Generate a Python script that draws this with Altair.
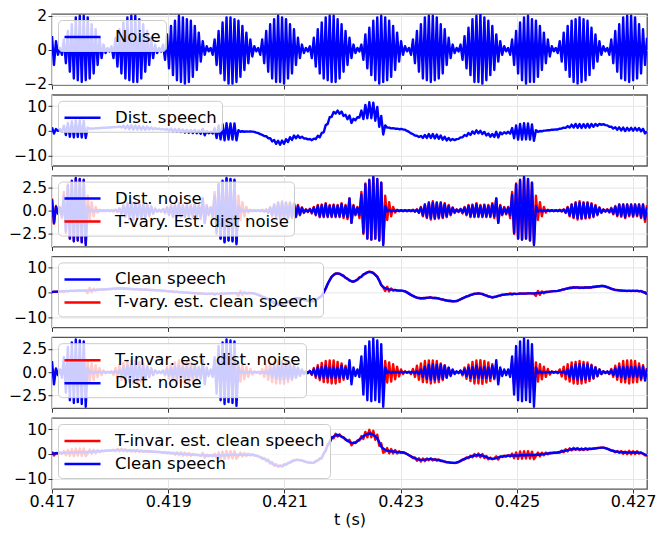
import altair as alt
import numpy as np
import pandas as pd

# ---------------- data ----------------
T_START, T_END = 0.417, 0.42724
X_TICKS = [0.417, 0.419, 0.421, 0.423, 0.425, 0.427]

NOISE = [
 0.8,-0.9,0.5,-0.3,
 0.1,-0.3,0.6,-0.8,1.1,-1.3,1.5,-1.7,1.9,-1.8,2.0,-1.9,2.0,-1.8,1.9,-1.7,1.5,-1.4,1.2,-0.9,0.7,-0.5,0.3,-0.2,0.1,
 -0.1,0.2,-0.5,0.7,-1.0,1.2,-1.4,1.6,-1.7,1.9,-1.8,2.0,-1.9,2.0,-1.9,1.8,-1.7,1.5,-1.3,1.1,-0.9,0.7,-0.5,0.3,-0.2,0.1,
 -0.1,0.3,-0.6,0.9,-1.1,1.4,-1.5,1.7,-1.8,2.0,-1.9,1.9,-2.0,1.8,-1.9,1.7,-1.6,1.4,-1.2,1.0,-0.7,0.5,-0.3,0.2,-0.1,
 0.1,-0.3,0.6,-0.9,1.1,-1.4,1.6,-1.8,1.9,-2.0,1.9,-2.0,1.8,-1.9,1.7,-1.6,1.4,-1.2,1.0,-0.8,0.6,-0.4,0.2,-0.1,
 0.1,-0.3,0.6,-0.8,1.1,-1.3,1.5,-1.7,1.8,-1.9,2.0,-1.9,1.9,-2.0,1.8,-1.7,1.5,-1.4,1.2,-0.9,0.7,-0.5,0.3,-0.2,0.1,
 -0.1,0.2,-0.5,0.7,-1.0,1.2,-1.4,1.6,-1.7,1.9,-1.8,2.0,-1.9,2.0,-1.9,1.8,-1.7,1.5,-1.3,1.1,-0.9,0.7,-0.5,0.3,-0.2,0.1,
 -0.1,0.3,-0.6,0.9,-1.1,1.3,-1.5,1.7,-1.8,1.9,-2.0,2.0,-1.9,1.9,-1.8,1.7,-1.6,1.4,-1.2,1.0,-0.7,0.5,-0.3,0.2,-0.1,
 0.1,-0.3,0.6,-0.8,1.1,-1.3,1.5,-1.7,1.9,-1.8,2.0,-1.9,2.0,-1.8,1.9,-1.7,1.5,-1.4,1.2,-0.9,0.7,-0.5,0.3,-0.2,0.1,
 -0.1,0.3,-0.6,0.8,-1.1,1.3,-1.5,1.8,-1.9,2.0,-1.9,2.1,-2.0,1.9,-1.8,1.7,-1.5,1.4,-1.2,0.9,-0.7,0.5,-0.3,0.2,-0.1,
 0.1,-0.3,0.6,-0.9,1.1,-1.4,1.6,-1.8,1.9,-2.0,2.0,-1.9,1.8,-1.9,1.7,-1.6,1.4,-1.2,1.0,-0.8,0.6,-0.4,0.2,-0.1,
 0.1,-0.2,0.5,-0.7,1.0,-1.2,1.4,-1.6,1.7,-1.9,1.8,-2.0,1.9,-1.9,1.8,-1.8,1.7,-1.5,1.3,-1.1,0.9,-0.7,0.5,-0.3,0.2,-0.1,
 0.1,-0.3,0.6,-0.8,1.1,-1.3,1.5,-1.7,1.9,-1.8,2.0,-1.9,2.0,-1.8,1.9,-1.7,1.5,-1.4,1.2,-0.9,0.7,
]

DIST_NOISE = [
 1.2,-1.3,0.4,-0.3,
 0.3,-0.6,1.6,-2.2,2.7,-3.0,3.2,-3.3,3.5,-3.2,3.4,-3.4,3.3,-3.7,0.5,-0.1,0.1,-0.1,0.05,-0.05,0.05,-0.05,0.05,-0.05,0.05,
 -0.05,0.05,-0.05,0.1,-0.1,0.2,-0.3,0.5,-0.6,0.7,-0.8,0.8,-0.85,0.8,-0.8,0.75,-0.8,0.7,-0.7,0.6,-0.5,0.4,-0.3,0.2,-0.1,0.1,
 -0.1,0.15,-0.2,0.3,-0.4,0.5,-0.6,0.55,-0.6,0.7,-0.6,0.5,-0.6,0.55,-0.6,0.5,-0.6,0.7,-0.6,0.5,-0.7,1.3,-1.3,0.5,-0.4,
 0.3,-0.5,1.6,-2.3,2.8,-3.0,3.2,-3.4,3.5,-3.2,3.4,-3.3,3.3,-3.6,0.5,-0.1,0.1,-0.1,0.05,-0.05,0.05,-0.05,0.05,-0.05,
 0.05,-0.05,0.05,-0.1,0.1,-0.2,0.3,-0.5,0.6,-0.7,0.8,-0.8,0.85,-0.8,0.8,-0.75,0.8,-0.7,0.7,-0.6,0.5,-0.4,0.3,-0.2,0.1,
 -0.1,0.15,-0.2,0.3,-0.4,0.5,-0.6,0.55,-0.6,0.7,-0.6,0.5,-0.6,0.55,-0.6,0.5,-0.6,0.7,-0.6,0.5,-0.7,1.3,-1.3,0.5,-0.4,0.3,
 -0.5,1.7,-2.4,2.8,-3.0,3.3,-3.1,3.6,-3.0,3.4,-3.2,3.0,-3.7,0.5,-0.1,0.1,-0.1,0.05,-0.05,0.05,-0.05,0.05,-0.05,0.05,-0.05,
 0.05,-0.05,0.05,-0.1,0.1,-0.2,0.3,-0.5,0.6,-0.7,0.8,-0.8,0.85,-0.8,0.8,-0.75,0.8,-0.7,0.7,-0.6,0.5,-0.4,0.3,-0.2,0.1,
 -0.1,0.15,-0.2,0.3,-0.4,0.5,-0.6,0.55,-0.6,0.7,-0.6,0.5,-0.6,0.55,-0.6,0.5,-0.6,0.7,-0.6,1.3,-1.3,0.5,-0.4,0.3,-0.3,
 0.3,-0.5,1.7,-2.4,2.8,-3.0,3.3,-3.1,3.6,-3.0,3.4,-3.2,3.0,-3.7,0.5,-0.1,0.1,-0.1,0.05,-0.05,0.05,-0.05,0.05,-0.05,
 0.05,-0.05,0.05,-0.05,0.1,-0.2,0.3,-0.5,0.6,-0.7,0.8,-0.8,0.85,-0.8,0.8,-0.75,0.8,-0.7,0.7,-0.6,0.5,-0.4,0.3,-0.2,0.1,-0.1,
 0.1,-0.15,0.2,-0.3,0.4,-0.5,0.6,-0.55,0.6,-0.7,0.6,-0.5,0.6,-0.55,0.6,-0.5,0.6,-0.7,0.6,-0.9,0.4,
]

TVARY_EST_NOISE = [
 1.3,-1.4,0.5,-0.3,
 0.4,-0.8,2.0,-2.4,2.8,-3.0,3.1,-3.2,3.4,-3.2,3.3,-3.3,3.2,-3.5,1.6,-1.0,0.9,-0.6,0.4,-0.2,0.1,-0.05,0.05,-0.05,0.05,
 -0.05,0.05,-0.1,0.1,-0.15,0.25,-0.4,0.6,-0.7,0.8,-0.9,0.95,-1.0,0.9,-0.9,0.85,-0.9,0.8,-0.8,0.7,-0.6,0.5,-0.35,0.25,-0.15,0.1,
 -0.15,0.2,-0.3,0.4,-0.5,0.6,-0.7,0.65,-0.7,0.8,-0.7,0.6,-0.7,0.65,-0.7,0.6,-0.7,0.8,-0.8,0.6,-0.9,1.3,-1.3,0.6,-0.5,
 0.4,-0.8,2.0,-2.5,2.9,-3.0,3.1,-3.3,3.4,-3.2,3.3,-3.2,3.2,-3.4,1.6,-1.0,0.9,-0.6,0.4,-0.2,0.1,-0.05,0.05,-0.05,
 0.05,-0.05,0.1,-0.1,0.15,-0.25,0.4,-0.6,0.7,-0.8,0.9,-0.95,1.0,-0.9,0.9,-0.85,0.9,-0.8,0.8,-0.7,0.6,-0.5,0.35,-0.25,0.15,
 -0.15,0.2,-0.3,0.4,-0.5,0.6,-0.7,0.65,-0.7,0.8,-0.7,0.6,-0.7,0.65,-0.7,0.6,-0.7,0.8,-0.8,0.6,-0.9,1.3,-1.3,0.6,-0.5,0.4,
 -0.8,2.0,-2.5,2.9,-3.0,3.2,-3.1,3.5,-3.0,3.3,-3.2,3.0,-3.5,1.6,-1.0,0.9,-0.6,0.4,-0.2,0.1,-0.05,0.05,-0.05,0.05,-0.05,
 0.05,-0.05,0.1,-0.1,0.15,-0.25,0.4,-0.6,0.7,-0.8,0.9,-0.95,1.0,-0.9,0.9,-0.85,0.9,-0.8,0.8,-0.7,0.6,-0.5,0.35,-0.25,0.15,
 -0.15,0.2,-0.3,0.4,-0.5,0.6,-0.7,0.65,-0.7,0.8,-0.7,0.6,-0.7,0.65,-0.7,0.6,-0.7,0.8,-0.8,1.3,-1.3,0.6,-0.5,0.4,-0.4,
 0.4,-0.8,2.0,-2.5,2.9,-3.0,3.2,-3.1,3.5,-3.0,3.3,-3.2,3.0,-3.5,1.6,-1.0,0.9,-0.6,0.4,-0.2,0.1,-0.05,0.05,-0.05,
 0.05,-0.05,0.1,-0.1,0.15,-0.25,0.4,-0.6,0.7,-0.8,0.9,-0.95,1.0,-0.9,0.9,-0.85,0.9,-0.8,0.8,-0.7,0.6,-0.5,0.35,-0.25,0.15,-0.1,
 0.15,-0.2,0.3,-0.4,0.5,-0.6,0.7,-0.65,0.7,-0.8,0.7,-0.6,0.7,-0.65,0.7,-0.6,0.7,-0.8,0.7,-1.2,0.6,
]

TINVAR_EST_NOISE = [
 0.45,-0.5,0.3,-0.2,
 0.05,-0.2,0.9,-1.2,1.5,-1.6,1.8,-1.8,1.9,-1.8,1.9,-1.9,1.8,-2.0,1.2,-1.05,0.95,-0.85,0.75,-0.55,0.45,-0.3,0.2,-0.1,0.05,
 -0.05,0.1,-0.3,0.45,-0.6,0.75,-0.85,1.0,-1.05,1.2,-1.1,1.25,-1.2,1.25,-1.2,1.1,-1.05,0.95,-0.8,0.7,-0.55,0.45,-0.3,0.2,-0.1,0.05,
 -0.05,0.2,-0.35,0.55,-0.7,0.85,-0.95,1.05,-1.1,1.25,-1.2,1.2,-1.25,1.1,-1.2,1.05,-1.0,0.85,-0.75,0.6,-0.45,0.3,-0.2,0.1,-0.05,
 0.05,-0.2,0.9,-1.25,1.55,-1.65,1.75,-1.85,1.9,-1.75,1.85,-1.8,1.8,-2.0,1.05,-1.0,0.85,-0.75,0.6,-0.5,0.35,-0.25,0.1,-0.05,
 0.05,-0.2,0.35,-0.5,0.7,-0.8,0.95,-1.05,1.1,-1.2,1.25,-1.2,1.2,-1.25,1.1,-1.05,0.95,-0.85,0.75,-0.55,0.45,-0.3,0.2,-0.1,0.05,
 -0.05,0.1,-0.3,0.45,-0.6,0.75,-0.85,1.0,-1.05,1.2,-1.1,1.25,-1.2,1.25,-1.2,1.1,-1.05,0.95,-0.8,0.7,-0.55,0.45,-0.3,0.2,-0.1,0.05,
 -0.05,0.95,-1.3,1.55,-1.65,1.8,-1.7,2.0,-1.65,1.85,-1.75,1.65,-2.0,1.2,-1.1,1.05,-1.0,0.85,-0.75,0.6,-0.45,0.3,-0.2,0.1,-0.05,
 0.05,-0.2,0.35,-0.5,0.7,-0.8,0.95,-1.05,1.2,-1.1,1.25,-1.2,1.25,-1.1,1.2,-1.05,0.95,-0.85,0.75,-0.55,0.45,-0.3,0.2,-0.1,0.05,
 -0.05,0.2,-0.35,0.5,-0.7,0.8,-0.95,1.1,-1.2,1.25,-1.2,1.3,-1.25,1.2,-1.1,1.05,-0.95,0.85,-0.75,0.55,-0.45,0.3,-0.2,0.1,-0.05,
 0.05,-0.2,0.95,-1.3,1.55,-1.65,1.8,-1.7,2.0,-1.65,1.85,-1.75,1.65,-2.0,1.05,-1.0,0.85,-0.75,0.6,-0.5,0.35,-0.25,0.1,-0.05,
 0.05,-0.1,0.3,-0.45,0.6,-0.75,0.85,-1.0,1.05,-1.2,1.1,-1.25,1.2,-1.2,1.1,-1.1,1.05,-0.95,0.8,-0.7,0.55,-0.45,0.3,-0.2,0.1,-0.05,
 0.05,-0.2,0.35,-0.5,0.7,-0.8,0.95,-1.05,1.2,-1.1,1.25,-1.2,1.25,-1.1,1.2,-1.05,0.95,-0.85,0.75,-0.55,0.45,
]

CLEAN_SPEECH = [
 0.2,0.2,0.3,0.3,0.4,0.4,0.5,0.5,
 0.5,0.6,0.6,0.6,0.6,0.7,0.7,0.7,0.7,
 0.8,0.8,0.9,0.9,1.0,1.0,1.1,1.1,1.2,
 1.2,1.3,1.3,1.4,1.4,1.5,1.5,1.6,
 1.6,1.6,1.6,1.5,1.5,1.4,1.4,1.3,1.3,
 1.3,1.2,1.2,1.1,1.1,1.1,1.0,1.0,
 0.9,0.9,0.8,0.8,0.7,0.6,0.6,0.5,
 0.4,0.4,0.3,0.2,0.2,0.1,0.1,0.0,
 -0.1,-0.1,-0.2,-0.2,-0.3,-0.3,-0.4,-0.4,-0.5,
 -0.5,-0.5,-0.6,-0.6,-0.6,-0.6,-0.6,-0.6,
 -0.6,-0.5,-0.5,-0.5,-0.4,-0.4,-0.4,-0.3,-0.3,-0.3,
 -0.3,-0.3,-0.3,-0.3,-0.3,-0.3,-0.3,-0.3,
 -0.5,-0.7,-1.0,-1.3,-1.7,-2.0,-2.3,
 -2.8,-3.3,-3.8,-4.3,-4.6,-4.8,-4.9,
 -4.8,-4.5,-4.2,-3.8,
 -3.4,-3.0,-2.6,-2.4,
 -2.4,-2.5,-2.7,-2.9,
 -3.2,-3.4,-3.5,-3.6,
 -3.5,-3.0,-2.5,-2.0,-1.4,
 0.0,1.6,3.4,5.0,6.3,7.1,7.6,
 7.7,7.5,7.1,6.6,
 6.0,5.4,4.9,4.5,
 4.4,4.7,5.2,5.9,
 6.5,7.2,7.7,8.1,8.3,
 8.2,7.8,7.1,6.3,
 4.8,3.0,2.2,1.7,1.4,1.2,
 1.1,1.0,0.9,0.8,0.7,0.7,0.6,
 0.4,0.0,-0.5,-1.0,-1.4,-1.8,-2.1,-2.3,
 -2.4,-2.4,-2.3,-2.2,-2.1,-2.1,-2.2,-2.3,-2.3,
 -2.5,-2.7,-2.9,-3.1,-3.3,-3.4,-3.5,-3.6,-3.6,
 -3.5,-3.2,-2.8,-2.4,-2.0,-1.7,-1.4,
 -1.1,-0.8,-0.6,-0.5,-0.4,
 -0.5,-0.7,-1.0,-1.3,-1.6,-1.8,-2.0,
 -1.9,-1.7,-1.4,-1.2,-1.0,-0.9,-0.8,
 -0.7,-0.7,-0.6,-0.6,-0.6,-0.6,-0.5,-0.5,-0.5,-0.5,-0.4,-0.4,-0.4,-0.4,-0.3,-0.3,
 -0.2,-0.1,0.0,0.1,0.2,0.3,0.4,0.5,0.5,0.6,
 0.8,1.0,1.2,1.4,1.6,1.8,1.9,
 2.0,2.0,2.0,1.9,1.9,1.9,2.0,2.0,2.0,2.1,
 2.2,2.3,2.4,2.5,2.6,2.6,
 2.4,2.1,1.8,1.5,1.2,1.0,0.9,
 0.8,0.7,0.7,0.6,0.6,0.6,0.6,0.6,0.6,0.6,0.5,0.5,
 0.2,-0.2,-0.6,
]

BLUE, RED = "#0000ff", "#ff0000"

# ---------------- derived series ----------------
n = min(len(NOISE), len(DIST_NOISE), len(TVARY_EST_NOISE), len(TINVAR_EST_NOISE), len(CLEAN_SPEECH))
t = np.linspace(T_START, T_END, 301)[:n]
noise = np.array(NOISE[:n])
dnoise = np.array(DIST_NOISE[:n])
tvary = np.array(TVARY_EST_NOISE[:n])
tinvar = np.array(TINVAR_EST_NOISE[:n])
clean = np.array(CLEAN_SPEECH[:n])
dspeech = clean + dnoise
tvary_clean = dspeech - tvary
tinvar_clean = dspeech - tinvar

FONT = "DejaVu Sans"
PW, PH = 595, 71
LINE_SYMBOL = "M-1,0L2.43,0"


def panel(entries, draw_order, ydom, yticks, yfmt, bottom):
    names = [e[0] for e in entries]
    colors = [e[2] for e in entries]
    layers = []
    for idx in draw_order:
        name, vals, _ = entries[idx]
        df = pd.DataFrame({"t": t, "v": vals, "s": name})
        layers.append(
            alt.Chart(df).mark_line(strokeWidth=2.4, strokeJoin="round", clip=True).encode(
                x=alt.X("t:Q",
                        scale=alt.Scale(domain=[T_START, T_END], nice=False, zero=False),
                        axis=alt.Axis(values=X_TICKS, format=".3f", labels=bottom, labelFlush=False,
                                      title="t (s)" if bottom else None)),
                y=alt.Y("v:Q",
                        scale=alt.Scale(domain=ydom, nice=False, zero=False),
                        axis=alt.Axis(values=yticks, format=yfmt, title=None)),
                color=alt.Color("s:N",
                                scale=alt.Scale(domain=names, range=colors),
                                legend=alt.Legend(title=None, orient="top-left", offset=6,
                                                  symbolType=LINE_SYMBOL, symbolSize=441,
                                                  symbolStrokeWidth=2.5, labelFontSize=16.5,
                                                  labelFont=FONT, labelLimit=400, labelOffset=28,
                                                  padding=5, rowPadding=2, cornerRadius=4,
                                                  strokeColor="#cccccc",
                                                  fillColor="rgba(255,255,255,0.8)")),
            )
        )
    return alt.layer(*layers).properties(width=PW, height=PH)


SP_DOM = [-14.2, 14.6]
NZ_DOM = [-3.85, 3.75]

p1 = panel([("Noise", noise, BLUE)], [0], [-2.08, 2.1], [-2, 0, 2], "d", False)
p2 = panel([("Dist. speech", dspeech, BLUE)], [0], SP_DOM, [-10, 0, 10], "d", False)
p3 = panel([("Dist. noise", dnoise, BLUE), ("T-vary. Est. dist noise", tvary, RED)], [1, 0],
           NZ_DOM, [-2.5, 0, 2.5], ".1f", False)
p4 = panel([("Clean speech", clean, BLUE), ("T-vary. est. clean speech", tvary_clean, RED)], [1, 0],
           SP_DOM, [-10, 0, 10], "d", False)
p5 = panel([("T-invar. est. dist. noise", tinvar, RED), ("Dist. noise", dnoise, BLUE)], [0, 1],
           NZ_DOM, [-2.5, 0, 2.5], ".1f", False)
p6 = panel([("T-invar. est. clean speech", tinvar_clean, RED), ("Clean speech", clean, BLUE)], [0, 1],
           SP_DOM, [-10, 0, 10], "d", True)

chart = alt.vconcat(p1, p2, p3, p4, p5, p6, spacing=9.8, bounds="flush").resolve_scale(
    color="independent", y="independent"
).resolve_legend(color="independent").properties(
    padding={"left": 0, "top": 0, "right": 0, "bottom": 0}
).configure(
    background="white"
).configure_view(
    stroke="#555555", strokeWidth=1.3
).configure_axis(
    labelFont=FONT, labelFontSize=16, labelColor="black", titleFont=FONT, titleFontSize=16,
    titleFontWeight="normal", titleColor="black", tickColor="#333333", tickSize=4,
    labelPadding=0, titlePadding=2, domain=False, gridColor="#e6e6e6", gridWidth=1,
).configure_axisY(
    labelFontSize=15.5, tickSize=4, labelPadding=1.5
)

chart.save("out.html", embed_options={"renderer": "svg", "actions": False})
